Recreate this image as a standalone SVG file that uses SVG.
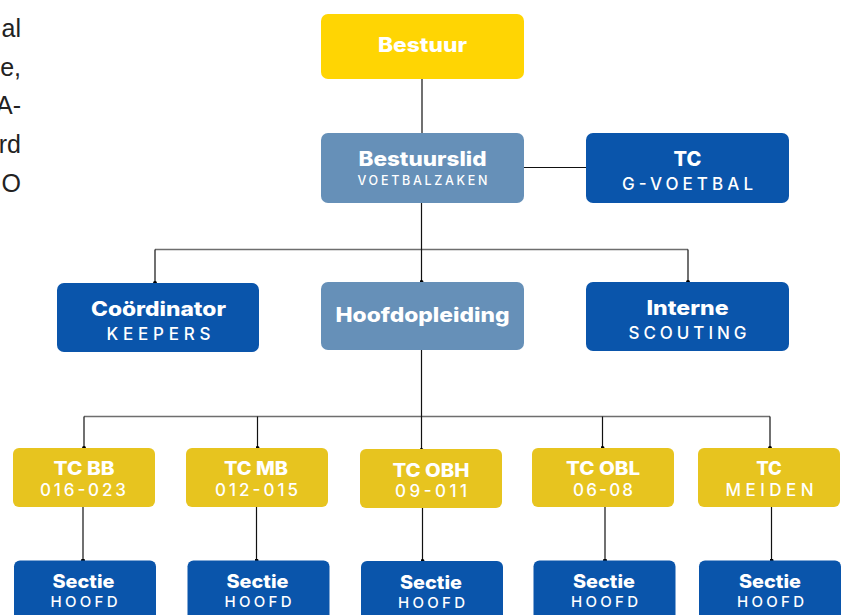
<svg xmlns="http://www.w3.org/2000/svg" width="847" height="615" viewBox="0 0 847 615">
<style>
.ttl{font-family:Inter,"Open Sans","DejaVu Sans",sans-serif;font-weight:800;fill:#fff;text-anchor:middle}
.sub{font-family:Inter,"Open Sans","DejaVu Sans",sans-serif;font-weight:500;fill:#fff;text-anchor:middle}
.yl{fill:#FFD503}
.yd{fill:#E7C41F}
.lb{fill:#6690B8}
.db{fill:#0A55AB}
.ln{stroke:#111;stroke-width:1.2;fill:none}
.lg{stroke:#6e6e6e;stroke-width:1.4;fill:none}
.side{font-family:"Liberation Sans",Arial,sans-serif;font-size:25px;fill:#222;text-anchor:end}
</style>
<defs>
<marker id="dot" viewBox="0 0 6 6" refX="3" refY="3" markerWidth="4" markerHeight="4" markerUnits="userSpaceOnUse"><circle cx="3" cy="3" r="3" fill="#000"/></marker>
</defs>
<g id="side-text">
<text class="side" x="21" y="37">al</text>
<text class="side" x="21" y="76">e,</text>
<text class="side" x="21" y="114">A-</text>
<text class="side" x="21" y="153">rd</text>
<text class="side" x="21" y="192">O</text>
</g>
<g id="connectors">
<line class="ln" x1="422" y1="79" x2="422" y2="133"/>
<line class="ln" x1="524" y1="167.5" x2="586" y2="167.5"/>
<line class="lg" x1="155" y1="249.5" x2="688" y2="249.5"/>
<line class="ln" x1="421.5" y1="203" x2="421.5" y2="282" marker-end="url(#dot)"/>
<line class="ln" x1="155" y1="249.5" x2="155" y2="283" marker-end="url(#dot)"/>
<line class="ln" x1="688" y1="249.5" x2="688" y2="282" marker-end="url(#dot)"/>
<line class="lg" x1="84" y1="416.5" x2="770" y2="416.5"/>
<line class="ln" x1="421.5" y1="350" x2="421.5" y2="450" marker-end="url(#dot)"/>
<line class="ln" x1="84" y1="416.5" x2="84" y2="448" marker-end="url(#dot)"/>
<line class="ln" x1="257.5" y1="416.5" x2="257.5" y2="448" marker-end="url(#dot)"/>
<line class="ln" x1="602.5" y1="416.5" x2="602.5" y2="448" marker-end="url(#dot)"/>
<line class="ln" x1="770" y1="416.5" x2="770" y2="448" marker-end="url(#dot)"/>
<line class="ln" x1="83" y1="507" x2="83" y2="560.5" marker-end="url(#dot)"/>
<line class="ln" x1="256.5" y1="507" x2="256.5" y2="560.5" marker-end="url(#dot)"/>
<line class="ln" x1="422.5" y1="508" x2="422.5" y2="561" marker-end="url(#dot)"/>
<line class="ln" x1="605" y1="507" x2="605" y2="560.5" marker-end="url(#dot)"/>
<line class="ln" x1="771.5" y1="507" x2="771.5" y2="560.5" marker-end="url(#dot)"/>
</g>
<g id="bestuur">
<rect class="yl" x="321" y="14" width="203" height="65" rx="7"/>
<text class="ttl" x="422.5" y="51.5" font-size="20" textLength="89" lengthAdjust="spacingAndGlyphs">Bestuur</text>
</g>
<g id="bestuurslid">
<rect class="lb" x="321" y="133" width="203" height="70" rx="7"/>
<text class="ttl" x="422.5" y="165.5" font-size="20" textLength="128" lengthAdjust="spacingAndGlyphs">Bestuurslid</text>
<text class="sub" x="422.5" y="185" font-size="12.5" textLength="130">VOETBALZAKEN</text>
</g>
<g id="tc-gvoetbal">
<rect class="db" x="586" y="133" width="203" height="70" rx="7"/>
<text class="ttl" x="687.5" y="165.5" font-size="20">TC</text>
<text class="sub" x="687.5" y="190" font-size="17" textLength="131">G-VOETBAL</text>
</g>
<g id="coordinator">
<rect class="db" x="57" y="283" width="202" height="69" rx="7"/>
<text class="ttl" x="158.5" y="316" font-size="20" textLength="135" lengthAdjust="spacingAndGlyphs">Coördinator</text>
<text class="sub" x="158.5" y="339.5" font-size="17" textLength="104">KEEPERS</text>
</g>
<g id="hoofdopleiding">
<rect class="lb" x="321" y="282" width="203" height="68" rx="7"/>
<text class="ttl" x="422.5" y="322" font-size="20" textLength="174" lengthAdjust="spacingAndGlyphs">Hoofdopleiding</text>
</g>
<g id="interne">
<rect class="db" x="586" y="282" width="203" height="69" rx="7"/>
<text class="ttl" x="687.5" y="314.5" font-size="20" textLength="82" lengthAdjust="spacingAndGlyphs">Interne</text>
<text class="sub" x="687.5" y="339" font-size="17" textLength="118">SCOUTING</text>
</g>
<g id="tc-bb">
<rect class="yd" x="13" y="448" width="142" height="59" rx="6"/>
<text class="ttl" x="84" y="475" font-size="18.5" textLength="61" lengthAdjust="spacingAndGlyphs">TC BB</text>
<text class="sub" x="83" y="495.7" font-size="17" textLength="86">016-023</text>
</g>
<g id="tc-mb">
<rect class="yd" x="186" y="448" width="142" height="59" rx="6"/>
<text class="ttl" x="256" y="475" font-size="18.5" textLength="64" lengthAdjust="spacingAndGlyphs">TC MB</text>
<text class="sub" x="256.5" y="495.7" font-size="17" textLength="83">012-015</text>
</g>
<g id="tc-obh">
<rect class="yd" x="360" y="449" width="142" height="59" rx="6"/>
<text class="ttl" x="431" y="477.3" font-size="18.5" textLength="77" lengthAdjust="spacingAndGlyphs">TC OBH</text>
<text class="sub" x="431" y="497" font-size="17" textLength="72">09-011</text>
</g>
<g id="tc-obl">
<rect class="yd" x="532" y="448" width="142" height="59" rx="6"/>
<text class="ttl" x="603" y="475" font-size="18.5" textLength="74" lengthAdjust="spacingAndGlyphs">TC OBL</text>
<text class="sub" x="603" y="495.7" font-size="17" textLength="60">06-08</text>
</g>
<g id="tc-meiden">
<rect class="yd" x="698" y="448" width="142" height="59" rx="6"/>
<text class="ttl" x="769" y="475" font-size="18.5">TC</text>
<text class="sub" x="769.5" y="495.7" font-size="17" textLength="88">MEIDEN</text>
</g>
<g id="sectie-1">
<rect class="db" x="14" y="560.5" width="142" height="62" rx="6"/>
<text class="ttl" x="83.5" y="588.3" font-size="18.5" textLength="62" lengthAdjust="spacingAndGlyphs">Sectie</text>
<text class="sub" x="84" y="606.7" font-size="15" textLength="67">HOOFD</text>
</g>
<g id="sectie-2">
<rect class="db" x="187.5" y="560.5" width="142" height="62" rx="6"/>
<text class="ttl" x="257.5" y="588.3" font-size="18.5" textLength="62" lengthAdjust="spacingAndGlyphs">Sectie</text>
<text class="sub" x="258" y="606.7" font-size="15" textLength="67">HOOFD</text>
</g>
<g id="sectie-3">
<rect class="db" x="361" y="561" width="142" height="62" rx="6"/>
<text class="ttl" x="431" y="589" font-size="18.5" textLength="62" lengthAdjust="spacingAndGlyphs">Sectie</text>
<text class="sub" x="431.5" y="608.3" font-size="15" textLength="67">HOOFD</text>
</g>
<g id="sectie-4">
<rect class="db" x="533.5" y="560.5" width="142" height="62" rx="6"/>
<text class="ttl" x="604" y="588.3" font-size="18.5" textLength="62" lengthAdjust="spacingAndGlyphs">Sectie</text>
<text class="sub" x="604.5" y="606.7" font-size="15" textLength="67">HOOFD</text>
</g>
<g id="sectie-5">
<rect class="db" x="699" y="560.5" width="142" height="62" rx="6"/>
<text class="ttl" x="770" y="588.3" font-size="18.5" textLength="62" lengthAdjust="spacingAndGlyphs">Sectie</text>
<text class="sub" x="770.5" y="606.7" font-size="15" textLength="67">HOOFD</text>
</g>
</svg>
